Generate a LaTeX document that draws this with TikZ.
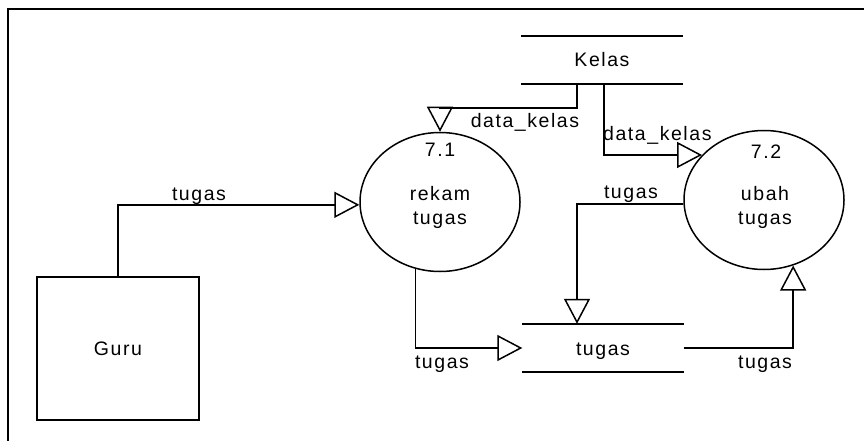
\documentclass[tikz,border=0pt]{standalone}
\usepackage{fontspec}
\setmainfont{Liberation Sans}[LetterSpace=8]
\usetikzlibrary{arrows.meta,shapes.geometric}
\begin{document}
\begin{tikzpicture}[x=1pt,y=-1pt,
  every node/.style={font=\fontsize{19.5}{24}\selectfont, inner sep=0pt},
  proc/.style={draw, ellipse, line width=1.5pt, minimum width=160pt, minimum height=139pt},
  entity/.style={draw, rectangle, line width=1.5pt, minimum width=162pt, minimum height=143pt, text height=14pt, text depth=0pt},
  store/.style={rectangle, minimum width=161pt, minimum height=48pt, text height=14pt, text depth=0pt},
  storeline/.style={line width=1.5pt},
  flow/.style={line width=1.5pt, -{Triangle[open,length=25pt,width=26pt,line width=1.5pt]}},
  lbl/.style={anchor=base},
  frame/.style={line width=1.8pt}
]
\useasboundingbox (0,0) rectangle (864,441);
% partial frame
\coordinate (fa) at (8,441);
\coordinate (fb) at (8,9);
\coordinate (fc) at (864,9);
\draw[frame] (fa) -- (fb) -- (fc);

% nodes
\node[entity] (guru) at (118,348.5) {Guru};
\node[proc] (c71) at (440,202) {};
\node[proc] (c72) at (764,200) {};
\node[store] (kelas) at (602,60) {Kelas};
\node[store] (tstore) at (603,348) {tugas};
\draw[storeline] (kelas.north west) -- (kelas.north east);
\draw[storeline] (kelas.south west) -- (kelas.south east);
\draw[storeline] (tstore.north west) -- (tstore.north east);
\draw[storeline] (tstore.south west) -- (tstore.south east);

% process texts
\node[lbl] (n71) at (440,157) {7.1};
\node[lbl] (r71a) at (440,200) {rekam};
\node[lbl] (r71b) at (440,224) {tugas};
\node[lbl] (n72) at (766,158) {7.2};
\node[lbl] (r72a) at (765,200) {ubah};
\node[lbl] (r72b) at (765,224) {tugas};

% flows
\coordinate (b1) at (440,108);
\draw[flow] ([xshift=-25pt]kelas.south) |- (b1) -- (c71.north);
\draw[flow] ([xshift=2pt]kelas.south) |- (c72.144.5);
\draw[flow] (guru.north) |- (c71.182);
\draw[flow] (c72.183) -| ([xshift=-26pt]tstore.north);
\draw[flow] (c71.-110.6) |- (tstore.west);
\draw[flow] (tstore.east) -| (c72.-66);

% flow labels
\node[lbl] (l1) at (199,200) {tugas};
\node[lbl] (l2) at (525,128) {data\_kelas};
\node[lbl, anchor=base west] (l3) at (603,140) {data\_kelas};
\node[lbl] (l4) at (631,198) {tugas};
\node[lbl] (l5) at (442,368) {tugas};
\node[lbl] (l6) at (765,368) {tugas};
\end{tikzpicture}
\end{document}
